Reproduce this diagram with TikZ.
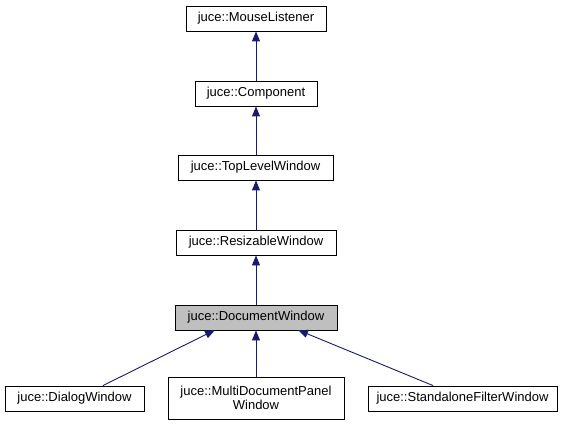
\documentclass[tikz,border=0pt]{standalone}
\usepackage{fontspec}
\setmainfont{Liberation Sans}
\usetikzlibrary{arrows.meta}
\definecolor{edgeblue}{HTML}{191970}
\definecolor{curgray}{HTML}{BFBFBF}
\tikzset{
  cls/.style={draw=black, line width=0.9pt, fill=white, inner sep=0pt, align=center,
    font=\fontsize{13}{14.5}\selectfont, minimum height=25pt},
  inh/.style={draw=edgeblue, line width=0.9pt, {Triangle[length=10pt,width=8pt,fill=edgeblue]}-}
}
\begin{document}
\begin{tikzpicture}[x=1pt,y=-1pt]
\useasboundingbox (0,0) rectangle (568,425);
\node[cls, minimum width=140pt] (ml) at (256,18.5) {juce::MouseListener};
\node[cls, minimum width=122pt] (comp) at (256,93.5) {juce::Component};
\node[cls, minimum width=155pt] (tlw) at (255.5,167.5) {juce::TopLevelWindow};
\node[cls, minimum width=160pt] (rw) at (256,242.5) {juce::ResizableWindow};
\node[cls, minimum width=162pt, fill=curgray] (dw) at (256,317.5) {juce::DocumentWindow};
\node[cls, minimum width=139pt] (dlg) at (74.5,398.5) {juce::DialogWindow};
\node[cls, minimum width=176pt, minimum height=42pt] (mdp) at (256,398) {juce::MultiDocumentPanel\\Window};
\node[cls, minimum width=189pt] (sfw) at (462.5,398.5) {juce::StandaloneFilterWindow};
\draw[inh] (ml.south) -- (comp.north);
\draw[inh] (comp.south) -- (tlw.north -| comp.south);
\draw[inh] (tlw.south -| rw.north) -- (rw.north);
\draw[inh] (rw.south) -- (dw.north);
\draw[inh] (dw.south) -- (mdp.north);
\coordinate (dlgtop) at (103,386);
\coordinate (sfwtop) at (433,385.5);
\draw[inh] (215,330) coordinate (dwl) -- (dlg.north -| dlgtop);
\draw[inh] (298,330) coordinate (dwr) -- (sfw.north -| sfwtop);
\end{tikzpicture}
\end{document}
